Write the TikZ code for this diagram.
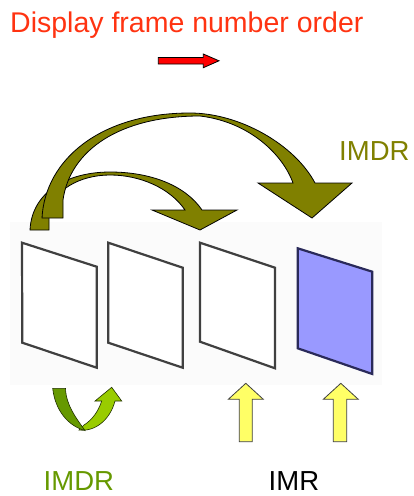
\documentclass[tikz,border=0pt]{standalone}
\usepackage{fontspec}
\setmainfont{Liberation Sans}
\definecolor{titlered}{HTML}{FF3311}
\definecolor{olivearc}{HTML}{808000}
\definecolor{greendark}{HTML}{669900}
\definecolor{greenlight}{HTML}{99CC00}
\definecolor{framegray}{HTML}{404040}
\definecolor{framenavy}{HTML}{2A2A5A}
\definecolor{frameblue}{HTML}{9999FF}
\definecolor{arrowyellow}{HTML}{FFFF66}
\definecolor{bgfaint}{HTML}{FBFBFB}
\begin{document}
\begin{tikzpicture}[x=1pt,y=-1pt,
  bigtext/.style={inner sep=0pt,anchor=base west,font=\fontsize{27.5}{30}\selectfont},
  framebox/.style={draw=framegray,line width=2.2pt,fill=white,line join=miter},
  arcshape/.style={draw=black,line width=0.8pt,fill=olivearc,line join=miter},
  uparrow/.style={draw=black!75,line width=0.8pt,fill=arrowyellow,line join=miter}]
\useasboundingbox (0,0) rectangle (414,496);
% title
\node[bigtext,text=titlered,font=\fontsize{28.5}{30}\selectfont] (title) at (10,32.7) {Display frame number order};
% red arrow
\draw[fill=red,draw=black,line width=0.8pt,line join=miter]
  (158.3,57.5) -- (203.3,57.5) -- (203.3,54) -- (219,60.8) -- (203.3,67.7) -- (203.3,64) -- (158.3,64) -- cycle;
% faint background of frames
\fill[bgfaint] (10,222) rectangle (382,385);
% frames
\draw[framebox] (22,242.7) -- (96.7,266.7) -- (96.7,367.7) -- (22.3,342.7) -- cycle;
\draw[framebox] (108.3,242.7) -- (182.7,267.7) -- (182.7,367.7) -- (108.3,342.7) -- cycle;
\draw[framebox] (200,242.7) -- (275,267.7) -- (275,368.3) -- (200,341.7) -- cycle;
\draw[framebox,draw=framenavy,fill=frameblue] (297.7,248.3) -- (372.3,271.7) -- (372.3,374) -- (297.7,348.3) -- cycle;
% small olive arc
\draw[arcshape]
  (30,230) .. controls (32,190) and (70,172) .. (110,172)
  .. controls (150,172) and (185,185) .. (202,210)
  -- (237,210) -- (200,230) -- (152,210) -- (185,210)
  .. controls (170,188) and (140,175) .. (110,175)
  .. controls (80,175) and (52,190) .. (49,215) -- (49,230) -- cycle;
% big olive arc
\draw[arcshape]
  (42,218) .. controls (45,160) and (100,113) .. (190,113)
  .. controls (240,113) and (295,145) .. (315,183)
  -- (352,183) -- (312,218) -- (258,183) -- (293,183)
  .. controls (283,155) and (250,122) .. (200,116)
  .. controls (120,116) and (70,150) .. (63,200) -- (63,218) -- cycle;
\node[bigtext,text=olivearc] (imdrtop) at (339,160) {IMDR};
% green U-turn arrow
\draw[draw=black!70!greendark,line width=0.6pt,fill=greenlight,line join=miter]
  (79,430) .. controls (95,432) and (110,420) .. (115,401)
  -- (121.7,401) -- (111.7,387.3) -- (95,401) -- (101.7,401)
  .. controls (98,412) and (92,420) .. (84,425) -- cycle;
\draw[draw=black!70!greendark,line width=0.6pt,fill=greendark,line join=miter]
  (52.7,388.3) .. controls (55,410) and (68,426) .. (85,430.5)
  .. controls (76,418) and (66,405) .. (65.5,388.3) -- cycle;
\node[bigtext,text=greendark] (imdrbot) at (43.5,490.5) {IMDR};
% yellow arrows
\draw[uparrow] (239.3,441.7) -- (239.3,399.3) -- (228.3,399.3) -- (245.8,383.3) -- (263.3,399.3) -- (252.3,399.3) -- (252.3,441.7) -- cycle;
\draw[uparrow] (333.3,441.7) -- (333.3,399.3) -- (323.3,399.3) -- (340.8,383.3) -- (358.3,399.3) -- (346.7,399.3) -- (346.7,441.7) -- cycle;
\node[bigtext,text=black] (imr) at (268.5,490.5) {IMR};
\end{tikzpicture}
\end{document}
